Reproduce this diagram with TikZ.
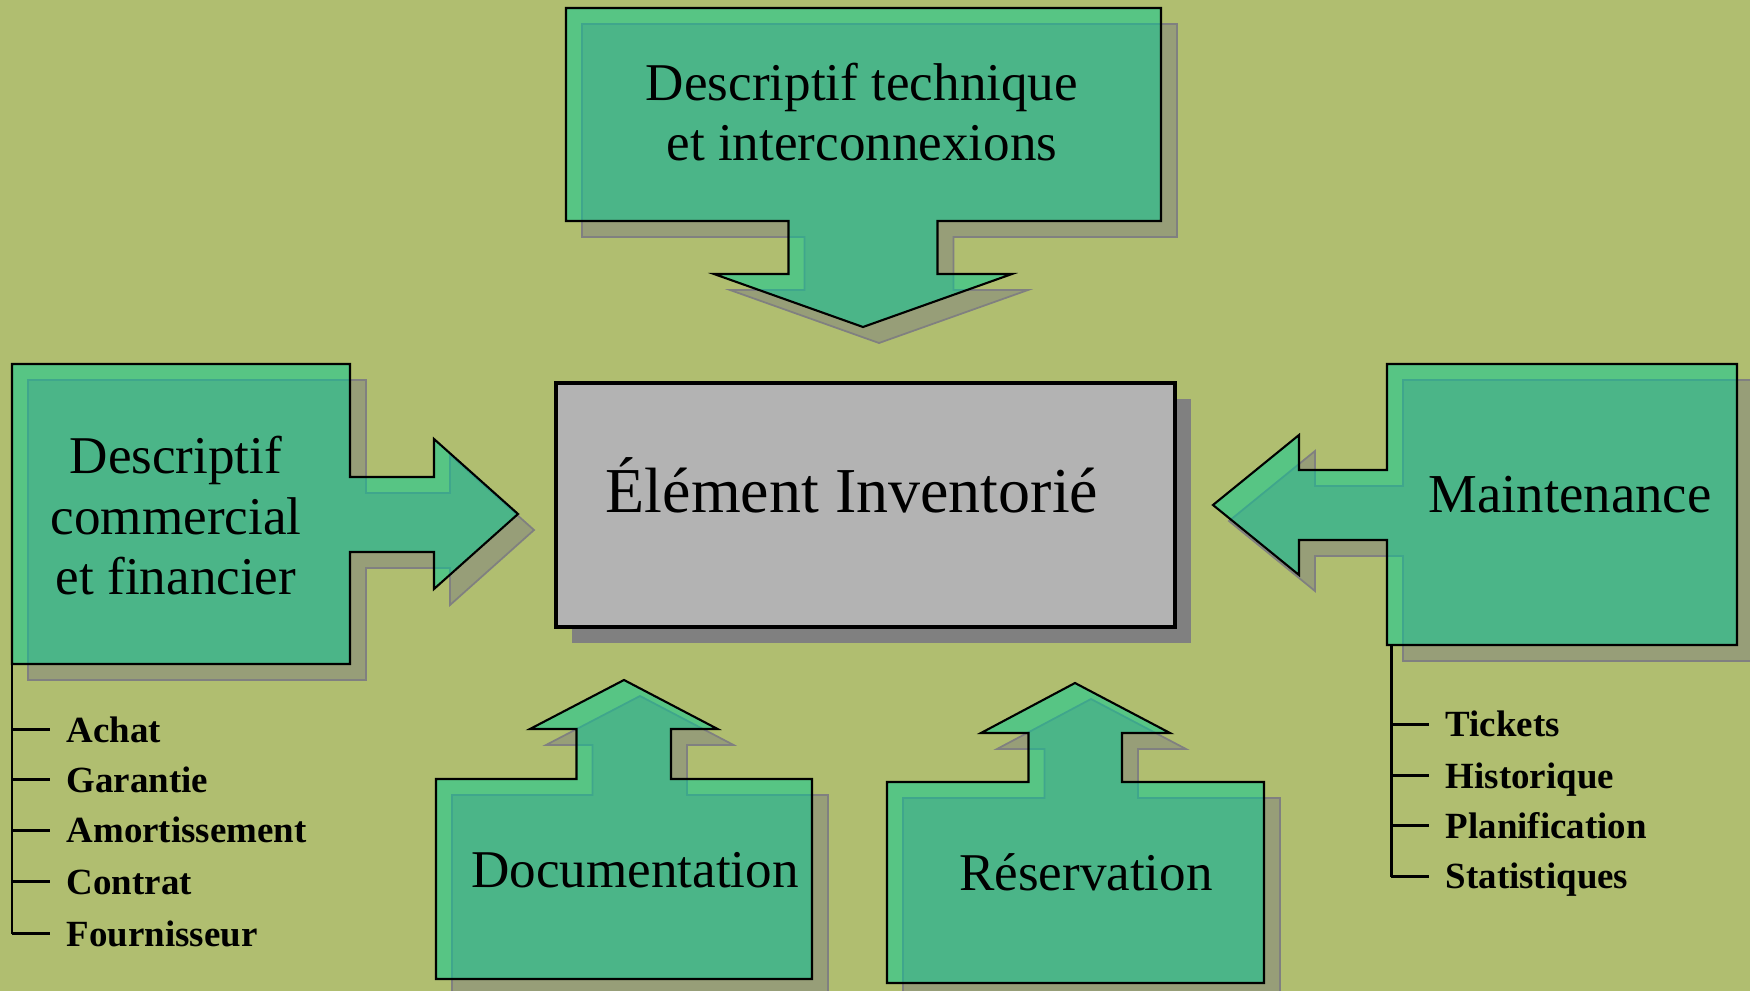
\documentclass[tikz,border=0pt]{standalone}
\usepackage{fontspec}
\setmainfont{Liberation Serif}
\usetikzlibrary{shadows}

\definecolor{bgolive}{RGB}{176,190,112}
\definecolor{calloutgreen}{RGB}{0,204,152}
\definecolor{boxgray}{RGB}{179,179,179}
\definecolor{shadowgray}{RGB}{128,128,128}

\begin{document}
\begin{tikzpicture}
	[x=0.01cm,y=-0.01cm,
		callout/.style={draw=black,line width=0.6pt,fill=calloutgreen,fill opacity=0.5,
			drop shadow={shadow xshift=0.16cm,shadow yshift=-0.16cm,fill=shadowgray,opacity=1,fill opacity=0.5,draw=shadowgray,draw opacity=1,line width=0.5pt}},
		big label/.style={font=\fontsize{15.1pt}{17.2pt}\selectfont,align=center,inner sep=0pt},
		item label/.style={font=\fontsize{10.5pt}{12pt}\selectfont\bfseries,anchor=base west,
			text height=0.25cm,text depth=0.01cm,inner xsep=0.16cm,inner ysep=0pt},
		tree line/.style={line width=0.85pt}]

	\useasboundingbox (0,0) rectangle (1750,991);
	\fill[bgolive] (0,0) rectangle (1750,991);

	% central element
	\draw[line width=0.9pt,fill=boxgray,drop shadow={shadow xshift=0.16cm,shadow yshift=-0.16cm,fill=shadowgray,opacity=1}]
		(556,383) rectangle (1175,627);
	\node[font=\fontsize{18.2pt}{20pt}\selectfont,anchor=base] (elem) at (852,513) {Élément Inventorié};

	% callouts
	\path[callout] (566,8) -- (1161,8) -- (1161,221) -- (937.5,221) -- (937.5,274) -- (1012,274)
		-- (863,327) -- (714,274) -- (788.5,274) -- (788.5,221) -- (566,221) -- cycle;
	\path[callout] (12,364) -- (350,364) -- (350,477) -- (434,477) -- (434,439) -- (518,514)
		-- (434,589) -- (434,552) -- (350,552) -- (350,664) -- (12,664) -- cycle;
	\path[callout] (1387,364) -- (1737,364) -- (1737,645) -- (1387,645) -- (1387,540) -- (1299,540)
		-- (1299,575) -- (1213,505) -- (1299,435) -- (1299,470) -- (1387,470) -- cycle;
	\path[callout] (436,779) -- (576.5,779) -- (576.5,729) -- (530,729) -- (624,680) -- (717.6,729)
		-- (671,729) -- (671,779) -- (812,779) -- (812,979) -- (436,979) -- cycle;
	\path[callout] (887,782) -- (1028.5,782) -- (1028.5,733) -- (981,733) -- (1075,683) -- (1170,733)
		-- (1122,733) -- (1122,782) -- (1264,782) -- (1264,983) -- (887,983) -- cycle;

	\node[big label] (techn) at (862,112) {Descriptif technique\\et interconnexions};
	\node[big label] (comm)  at (176,516) {Descriptif\\commercial\\et financier};
	\node[font=\fontsize{15.6pt}{18pt}\selectfont,anchor=base] (maint) at (1570,513) {Maintenance};
	\node[big label,anchor=base] (doc)  at (635,887)  {Documentation};
	\node[big label,anchor=base] (resa) at (1086,890) {Réservation};

	% sub-items
	\coordinate (spineL) at (12,572);
	\node[item label] (achat)    at (50,742) {Achat};
	\node[item label] (garantie) at (50,792) {Garantie};
	\node[item label] (amort)    at (50,843) {Amortissement};
	\node[item label] (contrat)  at (50,894) {Contrat};
	\node[item label] (fourn)    at (50,946) {Fournisseur};
	\draw[tree line] (spineL) -- (spineL |- fourn.west);
	\foreach \n in {achat,garantie,amort,contrat,fourn}
		\draw[tree line] (spineL |- \n.west) -- (\n.west);

	\coordinate (spineR) at (1391,645);
	\node[item label] (tickets) at (1429,737) {Tickets};
	\node[item label] (histo)   at (1429,788) {Historique};
	\node[item label] (planif)  at (1429,838) {Planification};
	\node[item label] (stats)   at (1429,889) {Statistiques};
	\draw[tree line] (spineR) -- (spineR |- stats.west);
	\foreach \n in {tickets,histo,planif,stats}
		\draw[tree line] (spineR |- \n.west) -- (\n.west);

\end{tikzpicture}
\end{document}
